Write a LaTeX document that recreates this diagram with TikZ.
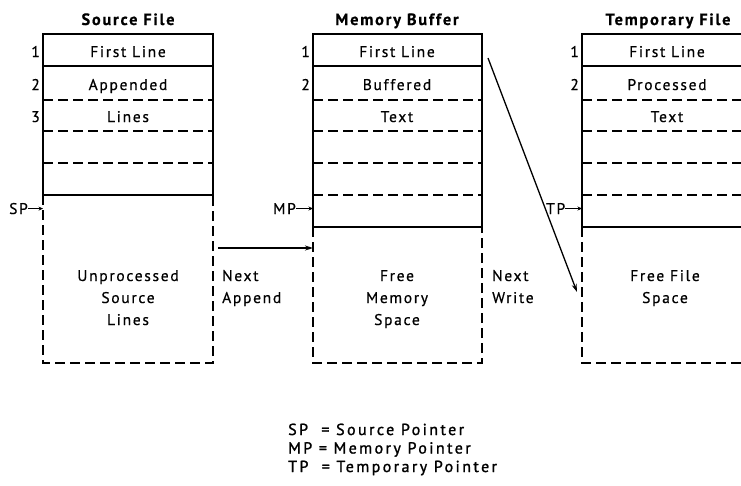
\documentclass[tikz,border=0pt]{standalone}
\usepackage{fontspec}
\setmainfont{PT Sans}[LetterSpace=11, FakeBold=0.6]
\newfontfamily\legendfont{PT Sans}[LetterSpace=15, FakeBold=1.4]
\usetikzlibrary{arrows.meta}
\begin{document}
\begin{tikzpicture}[x=1pt,y=-1pt,
  solidline/.style={line width=1.7pt},
  dashline/.style={line width=1.8pt, dash pattern=on 10pt off 5pt},
  lbl/.style={font=\fontsize{15.5}{22}\selectfont, inner sep=0pt, align=center},
  lleft/.style={font=\fontsize{15.5}{22}\selectfont, inner sep=0pt, align=left},
  ttl/.style={font=\fontsize{16.3}{16}\selectfont\bfseries, inner sep=0pt},
  ptr/.style={-{Stealth[length=4.5pt,width=4pt]}, line width=1pt},
  conn/.style={-{Stealth[length=8pt,width=5pt]}, line width=1.3pt}]
\useasboundingbox (0,0) rectangle (741,485);
\clip (0,0) rectangle (741,485);
% ---------- Source file
\draw[solidline] (43,34) rectangle (213,195);
\draw[solidline] (43,66) -- (213,66);
\foreach \y in {100,131,163} \draw[dashline] (43,\y) -- (213,\y);
\draw[dashline] (43,195) -- (43,363) -- (213,363) -- (213,195);
\node[ttl, anchor=base] (srcT) at (128,25) {Source File};
\node[lbl, anchor=base] (s1) at (128,57) {First Line};
\node[lbl, anchor=base] (s2) at (128,90) {Appended};
\node[lbl, anchor=base] (s3) at (128,122) {Lines};
\node[lbl, anchor=base east] (sn1) at (40,57) {1};
\node[lbl, anchor=base east] (sn2) at (40,90) {2};
\node[lbl, anchor=base east] (sn3) at (40,122) {3};
\node[lbl, anchor=base] (sfree) at (128,325) {Unprocessed\\Source\\Lines};
\coordinate (srcL) at (43,210);
\coordinate (srcR) at (218,248);
\node[lbl, anchor=base west] (sp) at (9,214) {SP};
% ---------- Memory buffer
\draw[solidline] (313,34) rectangle (482,227);
\draw[solidline] (313,66) -- (482,66);
\foreach \y in {100,131,163,195} \draw[dashline] (313,\y) -- (482,\y);
\draw[dashline] (313,227) -- (313,363) -- (482,363) -- (482,227);
\node[ttl, anchor=base] (memT) at (397,25) {Memory Buffer};
\node[lbl, anchor=base] (m1) at (397,57) {First Line};
\node[lbl, anchor=base] (m2) at (397,90) {Buffered};
\node[lbl, anchor=base] (m3) at (397,122) {Text};
\node[lbl, anchor=base east] (mn1) at (310,57) {1};
\node[lbl, anchor=base east] (mn2) at (310,90) {2};
\node[lbl, anchor=base] (mfree) at (397,325) {Free\\Memory\\Space};
\coordinate (memL) at (313,210);
\coordinate (memIn) at (313,248);
\coordinate (memOut) at (488,58);
\node[lbl, anchor=base west] (mp) at (273,214) {MP};
% ---------- Temporary file
\draw[solidline] (582,34) rectangle (752,227);
\draw[solidline] (582,66) -- (752,66);
\foreach \y in {100,131,163,195} \draw[dashline] (582,\y) -- (752,\y);
\draw[dashline] (582,227) -- (582,363) -- (752,363);
\node[ttl, anchor=base] (tmpT) at (668,25) {Temporary File};
\node[lbl, anchor=base] (t1) at (667,57) {First Line};
\node[lbl, anchor=base] (t2) at (667,90) {Processed};
\node[lbl, anchor=base] (t3) at (667,122) {Text};
\node[lbl, anchor=base east] (tn1) at (579,57) {1};
\node[lbl, anchor=base east] (tn2) at (579,90) {2};
\node[lbl, anchor=base] (tfree) at (665,303) {Free File\\Space};
\coordinate (tmpL) at (582,210);
\coordinate (tmpIn) at (577,292);
\node[lbl, anchor=base west] (tp) at (546,214) {TP};
% ---------- pointers and connectors
\draw[ptr] (sp.east) -- (sp.east -| srcL);
\draw[ptr] (mp.east) -- (mp.east -| memL);
\draw[ptr] (tp.east) -- (tp.east -| tmpL);
\draw[conn] (srcR) -- (memIn);
\draw[conn] (memOut) -- (tmpIn);
\node[lleft, anchor=base west] (na) at (222,303) {Next\\Append};
\node[lleft, anchor=base west] (nw) at (492,303) {Next\\Write};
% ---------- legend
\node[font=\legendfont\fontsize{16}{18.5}\selectfont, inner sep=0pt, align=left, anchor=base west] (legend) at (288,472)
  {SP\ \ = Source Pointer\\MP = Memory Pointer\\TP\ \ = Temporary Pointer};
\end{tikzpicture}
\end{document}
